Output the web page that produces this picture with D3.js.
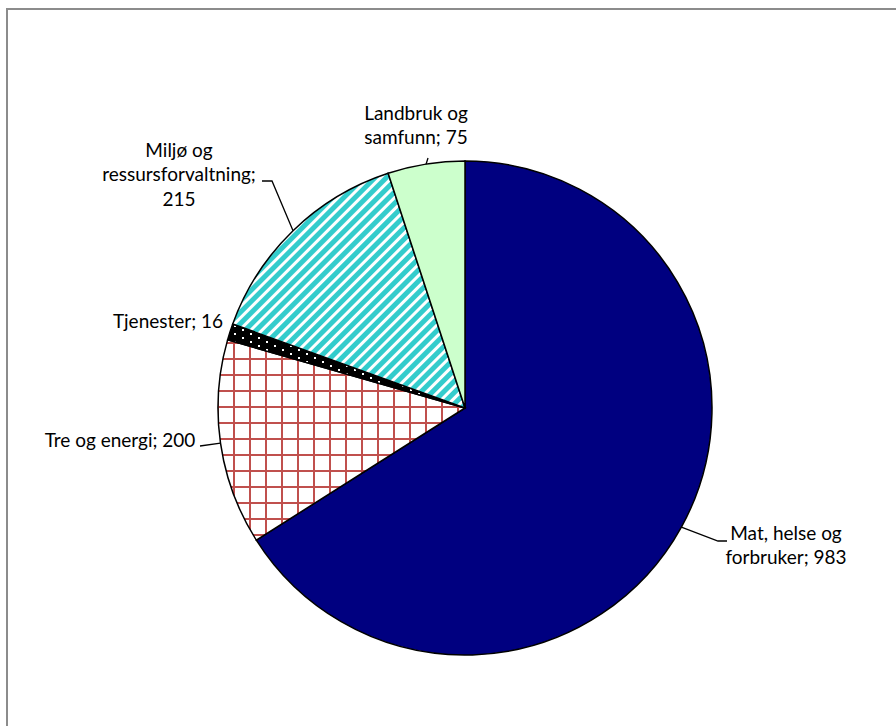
<!DOCTYPE html>
<meta charset="utf-8">
<script src="https://d3js.org/d3.v7.min.js"></script>
<style>
  body { margin: 0; background: #fff; }
  text { font-family: Lato, "Open Sans", sans-serif; font-size: 19px; fill: #000; }
</style>
<div id="my_dataviz"></div>
<script>

// data
var categories = ["Mat, helse og forbruker", "Tre og energi", "Tjenester", "Miljø og ressursforvaltning", "Landbruk og samfunn"];
var values = [983, 200, 16, 215, 75];
var labelLines = [
  ["Mat, helse og", "forbruker; 983"],
  ["Tre og energi; 200"],
  ["Tjenester; 16"],
  ["Miljø og", "ressursforvaltning;", "215"],
  ["Landbruk og", "samfunn; 75"]
];

var width = 896, height = 726;
var cx = 465, cy = 408, radius = 247;

// where each label sits, and the leader elbow (null = no leader)
var labelPos = [
  {x: 786, y: 533, elbow: [718, 541], end: [727, 541]},
  {x: 120, y: 440, elbow: null, end: [200, 446]},
  {x: 168, y: 321, elbow: null, end: null},
  {x: 179, y: 150, elbow: [272, 181], end: [262, 181]},
  {x: 416, y: 113, elbow: null, end: [428, 158]}
];

var svg = d3.select("#my_dataviz")
  .append("svg")
    .attr("width", width)
    .attr("height", height);

// chart frame
svg.append("rect")
  .attr("x", 7).attr("y", 9)
  .attr("width", width).attr("height", height)
  .attr("fill", "#fff")
  .attr("stroke", "#8c8c8c")
  .attr("stroke-width", 2);

var defs = svg.append("defs");

// red grid for Tre og energi
var grid = defs.append("pattern")
  .attr("id", "grid").attr("patternUnits", "userSpaceOnUse")
  .attr("width", 16).attr("height", 16)
  .attr("x", 8).attr("y", 14);
grid.append("rect").attr("width", 16).attr("height", 16).attr("fill", "#fff");
grid.append("rect").attr("x", 0).attr("y", 0).attr("width", 2).attr("height", 16).attr("fill", "#c0504d");
grid.append("rect").attr("x", 0).attr("y", 0).attr("width", 16).attr("height", 2).attr("fill", "#c0504d");

// black with white dots for Tjenester
var dots = defs.append("pattern")
  .attr("id", "dots").attr("patternUnits", "userSpaceOnUse")
  .attr("width", 16).attr("height", 8);
dots.append("rect").attr("width", 16).attr("height", 8).attr("fill", "#000");
dots.append("rect").attr("x", 1).attr("y", 1).attr("width", 2).attr("height", 2).attr("fill", "#fff");
dots.append("rect").attr("x", 9).attr("y", 5).attr("width", 2).attr("height", 2).attr("fill", "#fff");

// diagonal stripes for Miljø
var stripes = defs.append("pattern")
  .attr("id", "stripes").attr("patternUnits", "userSpaceOnUse")
  .attr("width", 8).attr("height", 8)
  .attr("patternTransform", "rotate(45)");
stripes.append("rect").attr("width", 8).attr("height", 8).attr("fill", "#33cccc");
stripes.append("rect").attr("x", 0).attr("width", 3).attr("height", 8).attr("fill", "#fff");

var fills = ["#000080", "url(#grid)", "url(#dots)", "url(#stripes)", "#ccffcc"];

var pie = d3.pie().sort(null).value(function(d) { return d; });
var arcs = pie(values);
var arc = d3.arc().innerRadius(0).outerRadius(radius);

var g = svg.append("g").attr("transform", "translate(" + cx + "," + cy + ")");

g.selectAll("path")
  .data(arcs)
  .enter()
  .append("path")
    .attr("d", arc)
    .attr("fill", function(d, i) { return fills[i]; })
    .attr("stroke", "#000")
    .attr("stroke-width", 1.5);

// leader lines
arcs.forEach(function(d, i) {
  var p = labelPos[i];
  if (!p.end) return;
  var a = (d.startAngle + d.endAngle) / 2;
  var pts = [[cx + radius * Math.sin(a), cy - radius * Math.cos(a)]];
  if (p.elbow) pts.push(p.elbow);
  pts.push(p.end);
  svg.append("path")
    .attr("d", d3.line()(pts))
    .attr("fill", "none")
    .attr("stroke", "#000")
    .attr("stroke-width", 1.3);
});

// labels
labelLines.forEach(function(lines, i) {
  var p = labelPos[i];
  var t = svg.append("text")
    .attr("text-anchor", "middle")
    .attr("x", p.x).attr("y", p.y);
  lines.forEach(function(l, j) {
    t.append("tspan")
      .attr("x", p.x)
      .attr("dy", j == 0 ? "0.35em" : "24.5px")
      .text(l);
  });
});

</script>
